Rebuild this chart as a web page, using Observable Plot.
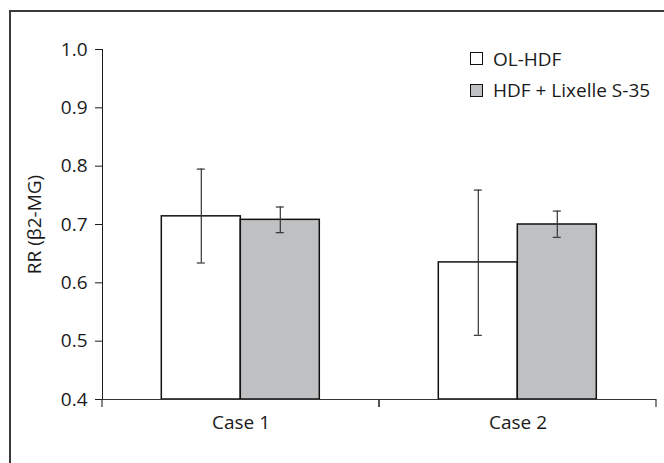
<!DOCTYPE html>
<html>
<head>
<meta charset="utf-8">
<script src="https://cdn.jsdelivr.net/npm/d3@7"></script>
<script src="https://cdn.jsdelivr.net/npm/@observablehq/plot@0.6"></script>
<style>
  html, body { margin: 0; padding: 0; background: #fff; }
  #wrap { position: relative; width: 664px; height: 463px; overflow: hidden; font-family: "Open Sans", sans-serif; }
  #chart { position: absolute; left: 0; top: 0; }
  #chart svg text { font-size: 19px; fill: #1a1a1a; }
  #frame { position: absolute; left: 9px; top: 10px; width: 700px; height: 500px; border: 2px solid #3a3a3a; pointer-events: none; box-sizing: border-box; }
  #legend { position: absolute; left: 470px; top: 43px; font-size: 19px; color: #1a1a1a; }
  #legend .row { display: flex; align-items: center; height: 31.6px; }
  #legend .sw { width: 13px; height: 13px; border: 1.5px solid #111; box-sizing: border-box; margin-right: 10px; }
</style>
</head>
<body>
<div id="wrap">
  <div id="chart"></div>
  <div id="legend"></div>
  <div id="frame"></div>
</div>
<script>
// ---- data ----
const cases = ["Case 1", "Case 2"];
const series = ["OL-HDF", "HDF + Lixelle S-35"];
const fills = ["#ffffff", "#bfc0c2"];
const means = [[0.714, 0.708], [0.635, 0.700]];   // [case][series]
const lows  = [[0.634, 0.686], [0.510, 0.678]];
const highs = [[0.795, 0.730], [0.759, 0.723]];
const yTicks = [0.4, 0.5, 0.6, 0.7, 0.8, 0.9, 1.0];
const yLabel = "RR (β2-MG)";

const data = [];
cases.forEach((c, i) => series.forEach((s, j) => data.push({
  case: c, series: s, value: means[i][j], lo: lows[i][j], hi: highs[i][j]
})));
const yDomain = [yTicks[0], yTicks[yTicks.length - 1]];

// custom mark: x-axis boundary ticks at facet edges
function boundaryTicks(index, scales, values, dims) {
  const g = d3.create("svg:g").attr("stroke", "#333").attr("stroke-width", 1.2);
  const yb = dims.height - dims.marginBottom;
  [dims.marginLeft, dims.width - dims.marginRight].forEach(x => {
    g.append("line").attr("x1", x).attr("x2", x).attr("y1", yb).attr("y2", yb + 8);
  });
  return g.node();
}

const plot = Plot.plot({
  width: 664,
  height: 463,
  marginLeft: 101.7,
  marginRight: 8,
  marginTop: 49,
  marginBottom: 64,
  style: { fontFamily: "Open Sans, sans-serif", fontSize: "19px", color: "#1a1a1a", background: "transparent", overflow: "visible" },
  fx: { domain: cases, padding: 0, axis: "bottom", tickSize: 0, tickPadding: 16, label: null },
  x: { domain: series, axis: null, paddingInner: 0, paddingOuter: 0.732 },
  y: { domain: yDomain, ticks: yTicks, tickFormat: d3.format(".1f"), tickSize: 7, tickPadding: 8,
       label: null, line: true },
  color: { domain: series, range: fills },
  marks: [
    Plot.barY(data, { fx: "case", x: "series", y1: yDomain[0], y2: "value", fill: "series", stroke: "#111", strokeWidth: 1.5 }),
    Plot.ruleX(data, { fx: "case", x: "series", y1: "lo", y2: "hi", stroke: "#333", strokeWidth: 1.2 }),
    Plot.tickY(data, { fx: "case", x: "series", y: "hi", stroke: "#333", strokeWidth: 1.2, insetLeft: 35.5, insetRight: 35.5 }),
    Plot.tickY(data, { fx: "case", x: "series", y: "lo", stroke: "#333", strokeWidth: 1.2, insetLeft: 35.5, insetRight: 35.5 }),
    Plot.ruleY([yDomain[0]], { stroke: "#333", strokeWidth: 1.2 }),
    Plot.text([yLabel], { fx: [cases[0]], text: d => d, frameAnchor: "left", rotate: -90, dx: -68, textAnchor: "middle", lineAnchor: "middle", fontSize: 20 }),
    boundaryTicks
  ]
});
document.getElementById("chart").appendChild(plot);

// legend
const leg = d3.select("#legend");
series.forEach((s, i) => {
  const row = leg.append("div").attr("class", "row");
  row.append("div").attr("class", "sw").style("background", fills[i]);
  row.append("span").text(s);
});
</script>
</body>
</html>
